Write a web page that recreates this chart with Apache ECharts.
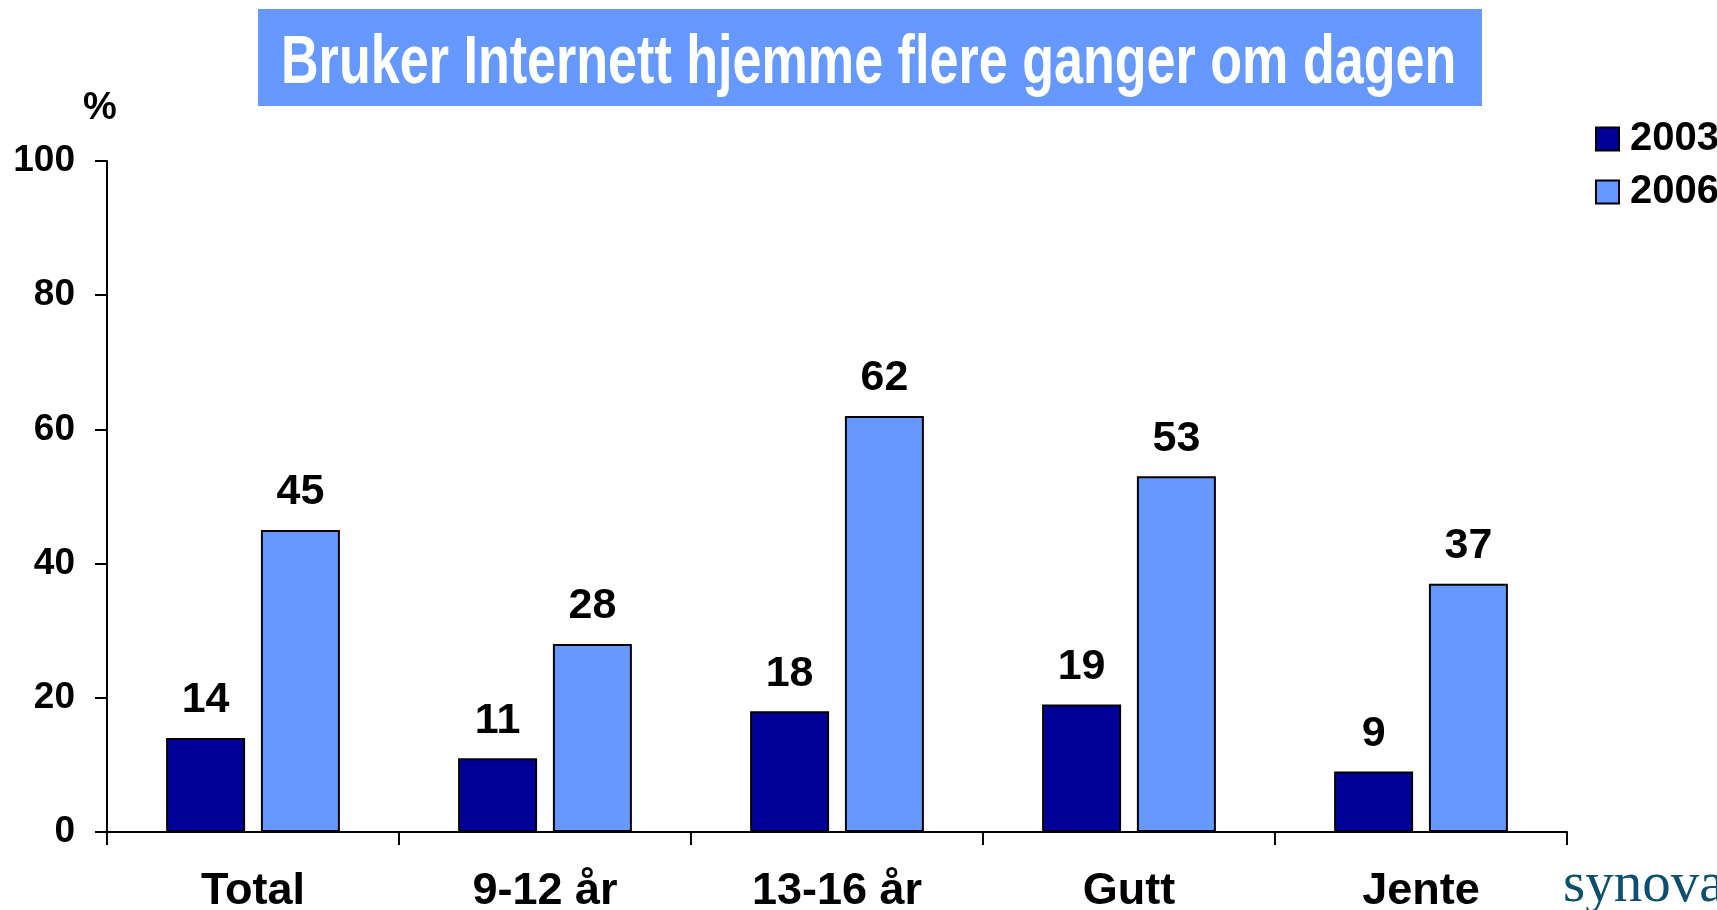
<!DOCTYPE html>
<html>
<head>
<meta charset="utf-8">
<script src="https://cdn.jsdelivr.net/npm/echarts@6/dist/echarts.min.js"></script>
<style>
html,body{margin:0;padding:0;background:#fff;}
#chart{width:1717px;height:910px;}
</style>
</head>
<body>
<div id="chart"></div>
<script>
var categories = ['Total', '9-12 år', '13-16 år', 'Gutt', 'Jente'];
var years = ['2003', '2006'];
var data2003 = [14, 11, 18, 19, 9];
var data2006 = [45, 28, 62, 53, 37];
var titleText = 'Bruker Internett hjemme flere ganger om dagen';

var font = '"Liberation Sans", Arial, sans-serif';
var myChart = echarts.init(document.getElementById('chart'));

var barLabel = {
    show: true,
    position: 'top',
    distance: 16,
    color: '#000',
    fontFamily: font,
    fontWeight: 'bold',
    fontSize: 43
};

var option = {
    backgroundColor: '#fff',
    animation: false,
    grid: {
        left: 107,
        right: 150,
        top: 161,
        bottom: 78,
        outerBoundsMode: 'none',
        containLabel: false
    },
    legend: {
        orient: 'vertical',
        left: 1590,
        top: 114,
        itemWidth: 23,
        itemHeight: 23,
        itemGap: 13,
        icon: 'rect',
        itemStyle: {borderColor: '#000', borderWidth: 2},
        textStyle: {
            color: '#000',
            fontFamily: font,
            fontWeight: 'bold',
            fontSize: 40,
            padding: [0, 0, 0, 6]
        },
        data: years
    },
    xAxis: {
        type: 'category',
        data: categories,
        axisLine: {lineStyle: {color: '#000', width: 2}},
        axisTick: {show: true, length: 13, interval: 0, lineStyle: {color: '#000', width: 2}},
        axisLabel: {
            margin: 37,
            interval: 0,
            color: '#000',
            fontFamily: font,
            fontWeight: 'bold',
            fontSize: 45
        }
    },
    yAxis: {
        type: 'value',
        min: 0,
        max: 100,
        interval: 20,
        name: '%',
        nameLocation: 'end',
        nameGap: 33,
        nameTextStyle: {
            color: '#000',
            fontFamily: font,
            fontWeight: 'bold',
            fontSize: 38,
            padding: [0, 14, 0, 0]
        },
        axisLine: {show: true, lineStyle: {color: '#000', width: 2}},
        axisTick: {show: true, length: 12, lineStyle: {color: '#000', width: 2}},
        splitLine: {show: false},
        axisLabel: {
            margin: 32,
            color: '#000',
            fontFamily: font,
            fontWeight: 'bold',
            fontSize: 37
        }
    },
    series: [
        {
            name: years[0],
            type: 'bar',
            barWidth: 79,
            barGap: '20%',
            data: data2003,
            itemStyle: {color: '#000099', borderColor: '#000', borderWidth: 2},
            label: barLabel
        },
        {
            name: years[1],
            type: 'bar',
            barWidth: 79,
            data: data2006,
            itemStyle: {color: '#6699FF', borderColor: '#000', borderWidth: 2},
            label: barLabel
        }
    ],
    graphic: [
        {
            type: 'rect',
            shape: {x: 258, y: 9, width: 1224, height: 97},
            style: {fill: '#6699FF'},
            silent: true
        },
        {
            type: 'text',
            x: 281,
            y: 64,
            scaleX: 0.755,
            style: {
                text: titleText,
                fill: '#fff',
                font: 'bold 69px ' + font,
                verticalAlign: 'middle',
                align: 'left'
            },
            silent: true
        },
        {
            // logo, clipped by right edge
            type: 'text',
            x: 1563,
            y: 886,
            style: {
                text: 'synovate',
                fill: '#0d4f6c',
                font: '57px "Liberation Serif", "Times New Roman", serif',
                verticalAlign: 'middle',
                align: 'left'
            },
            silent: true
        }
    ]
};

myChart.setOption(option);
</script>
</body>
</html>
